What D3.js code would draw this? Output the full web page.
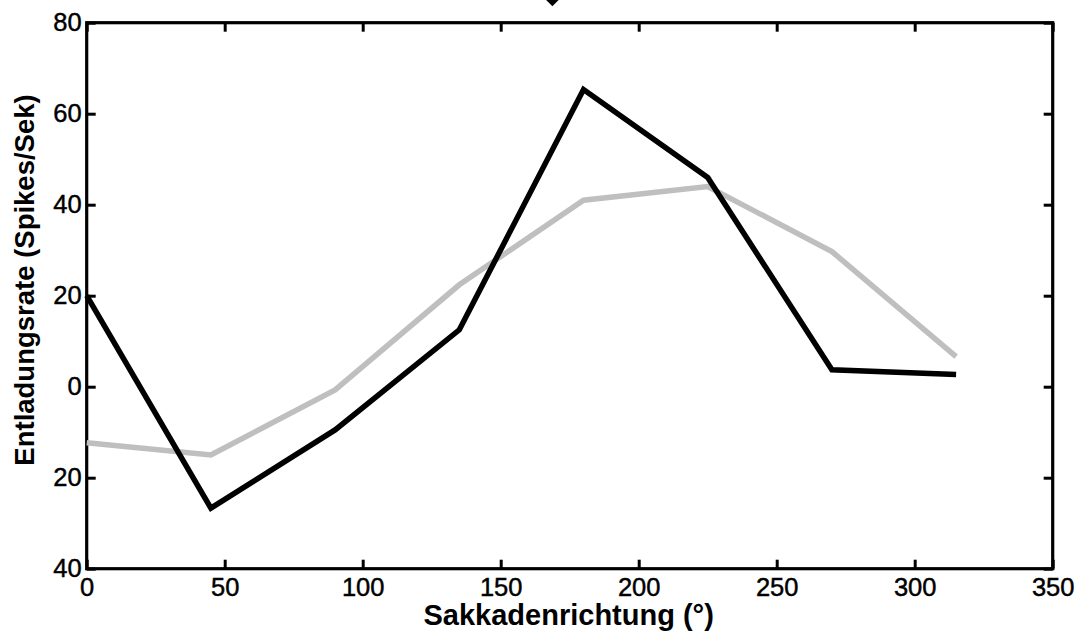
<!DOCTYPE html>
<html>
<head>
<meta charset="utf-8">
<script src="https://cdn.jsdelivr.net/npm/d3@7"></script>
<style>
  html, body { margin: 0; padding: 0; background: #fff; }
  svg { display: block; }
  text { font-family: "Liberation Sans", Arial, Helvetica, sans-serif; fill: #000; }
</style>
</head>
<body>
<svg id="chart" width="1085" height="637"></svg>
<script>
// Saccade direction (degrees)
const directions = [0, 45, 90, 135, 180, 225, 270, 315];
// Firing rate, dark curve (spikes/s)
const rateBlack = [20, -26.7, -9.5, 12.5, 65.3, 46, 3.7, 2.7];
// Firing rate, light curve (spikes/s)
const rateGrey = [-12.3, -15, -0.7, 22.4, 41, 44, 29.7, 6.6];
// Preferred direction marker
const preferredDirection = [168];

const xTicks = [0, 50, 100, 150, 200, 250, 300, 350];
const yTicks = [80, 60, 40, 20, 0, -20, -40];

const xLabel = "Sakkadenrichtung (°)";
const yLabel = "Entladungsrate (Spikes/Sek)";

const W = 1085, H = 637;
const m = { left: 86.7, right: W - 1052.7, top: 22.7, bottom: H - 568.7 };

const svg = d3.select("#chart");

const x = d3.scaleLinear().domain([0, 350]).range([m.left, W - m.right]);
const y = d3.scaleLinear().domain([-40, 80]).range([H - m.bottom, m.top]);

const tickLen = 9;
const fmtY = d => String(Math.abs(d));

// Axes with inward ticks on all four sides
const axisStyle = g => {
  g.selectAll(".domain").remove();
  g.selectAll(".tick line").attr("stroke", "#000").attr("stroke-width", 3);
  g.selectAll(".tick text")
    .style("font-size", "25.5px")
    .style("stroke", "#000")
    .style("stroke-width", "0.45px");
};

svg.append("g")
  .attr("transform", `translate(0,${y(-40)})`)
  .call(d3.axisBottom(x).tickValues(xTicks).tickSizeInner(-tickLen).tickSizeOuter(0).tickPadding(9))
  .call(axisStyle);

svg.append("g")
  .attr("transform", `translate(0,${y(80)})`)
  .call(d3.axisTop(x).tickValues(xTicks).tickSizeInner(-tickLen).tickSizeOuter(0).tickFormat(""))
  .call(axisStyle);

svg.append("g")
  .attr("transform", `translate(${x(0)},0)`)
  .call(d3.axisLeft(y).tickValues(yTicks).tickSizeInner(-tickLen).tickSizeOuter(0).tickPadding(5).tickFormat(fmtY))
  .call(axisStyle);

svg.append("g")
  .attr("transform", `translate(${x(350)},0)`)
  .call(d3.axisRight(y).tickValues(yTicks).tickSizeInner(-tickLen).tickSizeOuter(0).tickFormat(""))
  .call(axisStyle);

// Frame
svg.append("rect")
  .attr("x", x(0)).attr("y", y(80))
  .attr("width", x(350) - x(0)).attr("height", y(-40) - y(80))
  .attr("fill", "none").attr("stroke", "#000").attr("stroke-width", 3.2);

// Curves
const line = d3.line().x((d, i) => x(directions[i])).y(d => y(d));

svg.append("path")
  .datum(rateGrey)
  .attr("d", line)
  .attr("fill", "none")
  .attr("stroke", "#bfbfbf")
  .attr("stroke-width", 5.5)
  .attr("stroke-linejoin", "miter");

svg.append("path")
  .datum(rateBlack)
  .attr("d", line)
  .attr("fill", "none")
  .attr("stroke", "#000")
  .attr("stroke-width", 5.5)
  .attr("stroke-linejoin", "miter");

// Preferred-direction diamond above the frame
svg.selectAll(".marker")
  .data(preferredDirection)
  .join("path")
  .attr("class", "marker")
  .attr("transform", d => `translate(${x(d) + 2},${y(80) - 23})`)
  .attr("d", d3.symbol().type(d3.symbolDiamond2).size(110))
  .attr("fill", "#000");

// Axis titles
svg.append("text")
  .attr("x", (x(0) + x(350)) / 2 - 1)
  .attr("y", 625)
  .attr("text-anchor", "middle")
  .style("font-size", "29px")
  .style("font-weight", "bold")
  .text(xLabel);

svg.append("text")
  .attr("transform", `translate(34,280) rotate(-90)`)
  .attr("text-anchor", "middle")
  .style("font-size", "27.5px")
  .style("font-weight", "bold")
  .text(yLabel);
</script>
</body>
</html>
